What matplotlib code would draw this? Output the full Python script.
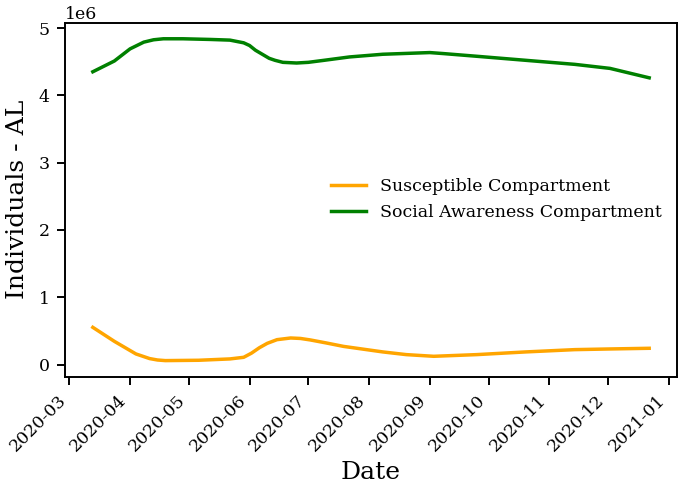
import matplotlib
matplotlib.use("Agg")
import matplotlib.pyplot as plt
import matplotlib.dates as mdates
import pandas as pd

plt.rcParams['font.family'] = ['DejaVu Serif']

# values (individuals)
sus_dates = ["2020-03-13", "2020-03-24", "2020-04-04", "2020-04-11", "2020-04-15",
             "2020-04-19", "2020-05-06", "2020-05-22", "2020-05-29", "2020-06-02",
             "2020-06-06", "2020-06-10", "2020-06-15", "2020-06-22", "2020-06-27",
             "2020-07-02", "2020-07-10", "2020-07-19", "2020-08-08", "2020-08-20",
             "2020-09-03", "2020-09-25", "2020-10-20", "2020-11-14", "2020-12-02",
             "2020-12-22"]
susceptible = [0.553e6, 0.345e6, 0.158e6, 0.089e6, 0.068e6,
               0.059e6, 0.064e6, 0.084e6, 0.108e6, 0.170e6,
               0.250e6, 0.315e6, 0.370e6, 0.395e6, 0.388e6,
               0.366e6, 0.322e6, 0.270e6, 0.188e6, 0.148e6,
               0.123e6, 0.148e6, 0.188e6, 0.222e6, 0.232e6,
               0.242e6]

aw_dates = ["2020-03-13", "2020-03-24", "2020-04-01", "2020-04-08", "2020-04-13",
            "2020-04-18", "2020-04-28", "2020-05-12", "2020-05-22", "2020-05-29",
            "2020-06-01", "2020-06-04", "2020-06-11", "2020-06-14", "2020-06-18",
            "2020-06-25", "2020-07-01", "2020-07-09", "2020-07-22", "2020-08-08",
            "2020-09-01", "2020-09-08", "2020-09-25", "2020-10-20", "2020-11-14",
            "2020-12-02", "2020-12-22"]
awareness = [4.35e6, 4.51e6, 4.69e6, 4.79e6, 4.825e6,
             4.84e6, 4.84e6, 4.83e6, 4.82e6, 4.78e6,
             4.74e6, 4.67e6, 4.55e6, 4.52e6, 4.49e6,
             4.48e6, 4.49e6, 4.52e6, 4.57e6, 4.61e6,
             4.635e6, 4.62e6, 4.58e6, 4.52e6, 4.46e6,
             4.40e6, 4.26e6]

fig = plt.figure(figsize=(6.8, 4.91), dpi=100)
ax = fig.add_axes([0.0956, 0.2328, 0.9, 0.721])

ax.plot(pd.to_datetime(sus_dates), susceptible, color="orange", lw=2.5,
        label="Susceptible Compartment")
ax.plot(pd.to_datetime(aw_dates), awareness, color="green", lw=2.5,
        label="Social Awareness Compartment")

ax.xaxis.set_major_locator(mdates.MonthLocator())
ax.xaxis.set_major_formatter(mdates.DateFormatter("%Y-%m"))
plt.setp(ax.get_xticklabels(), rotation=45, ha="right")

for s in ax.spines.values():
    s.set_linewidth(1.4)
ax.tick_params(labelsize=12.5, length=6, width=1.4, pad=5)
ax.yaxis.get_offset_text().set_fontsize(12.5)

ax.set_xlabel("Date", fontsize=18)
ax.set_ylabel("Individuals - AL", fontsize=18, labelpad=7)
ax.legend(loc="center right", frameon=False, fontsize=12.5)

fig.savefig("out.png", dpi=100)
